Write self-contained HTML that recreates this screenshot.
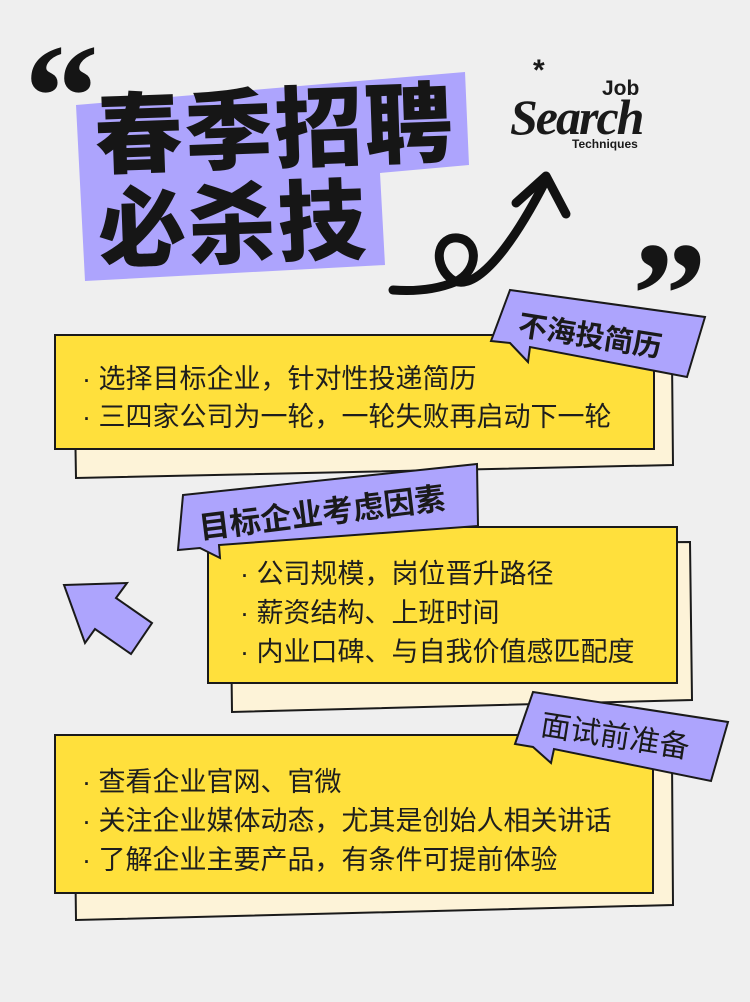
<!DOCTYPE html>
<html><head><meta charset="utf-8"><style>
html,body{margin:0;padding:0}
body{width:750px;height:1002px;background:#efefef;position:relative;overflow:hidden;font-family:"Liberation Sans","Noto Sans CJK SC",sans-serif;color:#1a1a1a}
svg{position:absolute;left:0;top:0}
.t{position:absolute;white-space:nowrap}
.li{position:absolute;white-space:nowrap;font-size:27px;color:#1e1e1e}
</style></head><body>
<svg width="750" height="1002" viewBox="0 0 750 1002">
 <polygon points="76,105 465,72 469,165 380,173 385,265 85,281" fill="#ada4fd"/>
 <path d="M393,290 C420,292 440,288 455,282 C480,270 478,240 458,238 C438,236 432,262 450,278 C470,295 505,260 546,180" fill="none" stroke="#111" stroke-width="9" stroke-linecap="round"/>
 <path d="M516,203 L546,176 L566,214" fill="none" stroke="#111" stroke-width="9" stroke-linecap="round" stroke-linejoin="round"/>
 <polygon points="74,360 672,358 673,465 76,478" fill="#fdf3d8" stroke="#1a1a1a" stroke-width="2"/>
 <rect x="55" y="335" width="599" height="114" fill="#ffe03c" stroke="#1a1a1a" stroke-width="2"/>
 <polygon points="510,290 705,317 687,377 530,347 528,362 510,343 491,341" fill="#ada4fd" stroke="#1a1a1a" stroke-width="2"/>
 <polygon points="230,545 690,542 692,700 232,712" fill="#fdf3d8" stroke="#1a1a1a" stroke-width="2"/>
 <rect x="208" y="527" width="469" height="156" fill="#ffe03c" stroke="#1a1a1a" stroke-width="2"/>
 <polygon points="183,495 477,464 478,526 219,545 220,558 200,548 178,550" fill="#ada4fd" stroke="#1a1a1a" stroke-width="2"/>
 <polygon points="64,585 127,583 116,598 152,623 131,654 95,629 85,643" fill="#ada4fd" stroke="#1a1a1a" stroke-width="2"/>
 <polygon points="74,760 672,758 673,905 76,920" fill="#fdf3d8" stroke="#1a1a1a" stroke-width="2"/>
 <rect x="55" y="735" width="598" height="158" fill="#ffe03c" stroke="#1a1a1a" stroke-width="2"/>
 <polygon points="533,692 728,722 711,781 554,749 551,763 533,747 515,744" fill="#ada4fd" stroke="#1a1a1a" stroke-width="2"/>
</svg>
<div class="t" style="left:24px;top:22px;font:bold 150px/1 'Liberation Serif',serif;color:#151515">“</div>
<div class="t" style="left:632px;top:220px;font:bold 150px/1 'Liberation Serif',serif;color:#151515">”</div>
<div class="t" style="left:93px;top:90px;font-weight:900;font-size:88px;line-height:94px;letter-spacing:2px;transform:rotate(-2deg);transform-origin:0 0;color:#161616">春季招聘<br>必杀技</div>
<div class="t" style="left:533px;top:56px;font:bold 30px/1 'Liberation Sans',sans-serif">*</div>
<div class="t" style="left:602px;top:78px;font:bold 21px/1 'Liberation Sans',sans-serif">Job</div>
<div class="t" style="left:510px;top:92px;font:italic bold 50px/1 'Liberation Serif',serif;letter-spacing:-2px">Search</div>
<div class="t" style="left:572px;top:138px;font:bold 12px/1 'Liberation Sans',sans-serif">Techniques</div>
<div class="t" style="left:522px;top:302px;font-weight:bold;font-size:29px;transform:rotate(9deg);transform-origin:0 0">不海投简历</div>
<div class="t" style="left:196px;top:503px;font-weight:bold;font-size:31px;transform:rotate(-7deg);transform-origin:0 0">目标企业考虑因素</div>
<div class="t" style="left:545px;top:700px;font-size:30px;transform:rotate(9deg);transform-origin:0 0">面试前准备</div>
<div class="li" style="left:82px;top:357px">· 选择目标企业，针对性投递简历</div>
<div class="li" style="left:82px;top:395px">· 三四家公司为一轮，一轮失败再启动下一轮</div>
<div class="li" style="left:240px;top:552px">· 公司规模，岗位晋升路径</div>
<div class="li" style="left:240px;top:591px">· 薪资结构、上班时间</div>
<div class="li" style="left:240px;top:630px">· 内业口碑、与自我价值感匹配度</div>
<div class="li" style="left:82px;top:760px">· 查看企业官网、官微</div>
<div class="li" style="left:82px;top:799px">· 关注企业媒体动态，尤其是创始人相关讲话</div>
<div class="li" style="left:82px;top:838px">· 了解企业主要产品，有条件可提前体验</div>
</body></html>
